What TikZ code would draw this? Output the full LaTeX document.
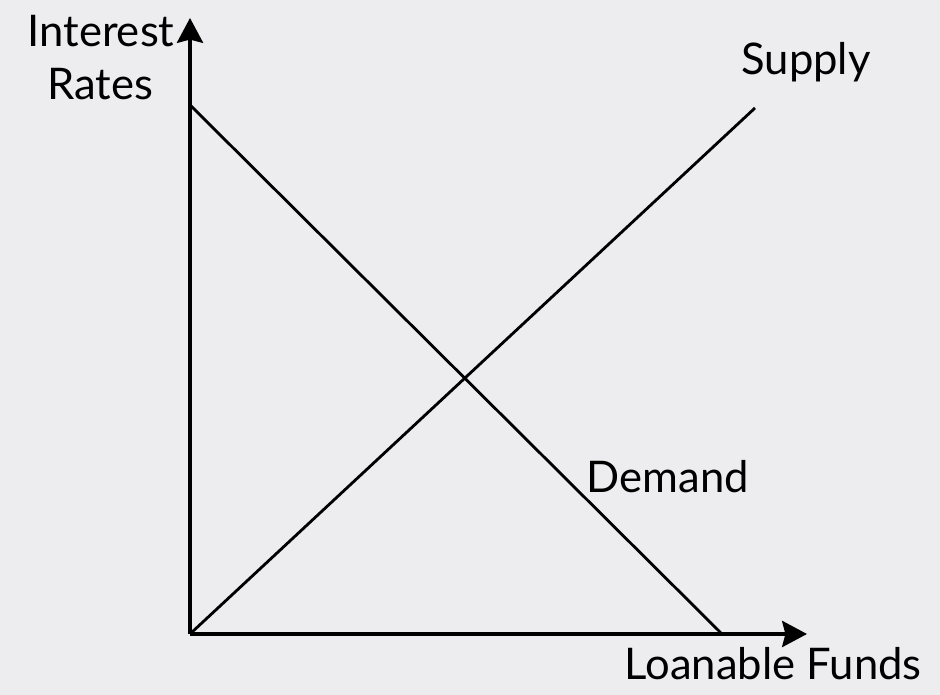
\documentclass[tikz,border=0pt]{standalone}
\usepackage{fontspec}
\setmainfont{Lato}
\usetikzlibrary{arrows.meta, positioning}
\definecolor{slidebg}{RGB}{237,237,239}

\begin{document}
\begin{tikzpicture}[
  x=0.025cm, y=0.025cm,
  font=\fontsize{31}{37}\selectfont,
  axis/.style={-{Stealth[length=0.62cm, width=0.65cm, inset=0.08cm]}, line width=2.8pt},
  curve/.style={line width=2pt},
  lbl/.style={anchor=base, inner sep=0pt}
]
  %--- background (fixes the bounding box) ---
  \fill[slidebg] (0,0) rectangle (940,695);

  %--- key points ---
  \coordinate (O)    at (190,61);
  \coordinate (ytip) at (190,677);
  \coordinate (xtip) at (807,61);
  \coordinate (dtop) at (190,590);
  \coordinate (dbot) at (722,61);
  \coordinate (stop) at (755,587);

  %--- axes ---
  \draw[axis] (O) -- (ytip);
  \draw[axis] (O) -- (xtip);

  %--- supply and demand ---
  \draw[curve] (dtop) -- (dbot);
  \draw[curve] (O) -- (stop);

  %--- labels ---
  \node[lbl] (yl1) at (101,648) {Interest};
  \node[lbl] (yl2) at (100,595) {Rates};
  \node[lbl] (sup) at (806,620) {Supply};
  \node[lbl] (dem) at (668,202) {Demand};
  \node[lbl, anchor=base east] (xl) at (922,15) {Loanable Funds};
\end{tikzpicture}
\end{document}
